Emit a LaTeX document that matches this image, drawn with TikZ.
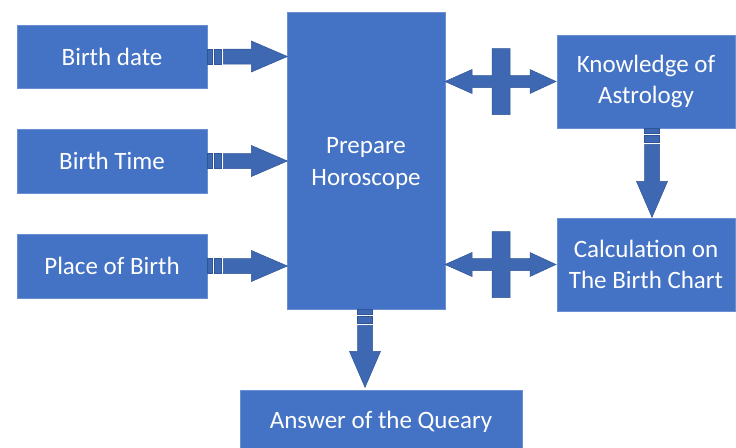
\documentclass[tikz,border=0pt]{standalone}
\usepackage{fontspec}
\setmainfont{Carlito}
\usetikzlibrary{calc}
\definecolor{boxblue}{HTML}{4472C4}
\definecolor{boxline}{HTML}{6A8FD3}
\definecolor{arrblue}{HTML}{3F68B2}
\definecolor{arrline}{HTML}{2F5597}
\tikzset{
  box/.style={draw=boxline, line width=0.8pt, fill=boxblue, text=white,
    font=\fontsize{25}{31.5}\selectfont, align=center, inner sep=0pt},
  arrfill/.style={fill=arrblue, draw=arrline, line width=0.5pt},
  pics/stripedarrow/.style={code={
    \path[arrfill] (0,-7.5) rectangle (5,7.5);
    \path[arrfill] (6.5,-7.5) rectangle (13.5,7.5);
    \path[arrfill] (16,-7.5) -- (#1-36,-7.5) -- (#1-36,-15.5) -- (#1,0)
      -- (#1-36,15.5) -- (#1-36,7.5) -- (16,7.5) -- cycle;
  }},
  pics/crossarrow/.style={code={
    \path[arrfill] (-56,0) -- (-29,-12) -- (-29,-6) -- (-9,-6) -- (-9,-33)
      -- (9,-33) -- (9,-6) -- (29,-6) -- (29,-12) -- (55,0) -- (29,12)
      -- (29,6) -- (9,6) -- (9,33) -- (-9,33) -- (-9,6) -- (-29,6)
      -- (-29,12) -- cycle;
  }}
}
\begin{document}
\begin{tikzpicture}[x=1pt,y=-1pt]
\useasboundingbox (0,0) rectangle (736,447);
\node[box, minimum width=190pt, minimum height=63pt] (bd) at (112,56.5) {Birth date};
\node[box, minimum width=190pt, minimum height=64pt] (bt) at (112,161) {Birth Time};
\node[box, minimum width=190pt, minimum height=64pt] (pb) at (112,266) {Place of Birth};
\node[box, minimum width=158pt, minimum height=297pt] (prep) at (366,160.5) {};
\node[text=white, font=\fontsize{25}{31.5}\selectfont, align=center] (preptext) at (366,163.5) {Prepare\\Horoscope};
\node[box, minimum width=178pt, minimum height=93pt] (know) at (646,81.5) {Knowledge of\\Astrology};
\node[box, minimum width=178pt, minimum height=93pt] (calc) at (646,264.5) {Calculation on\\The Birth Chart};
\node[box, minimum width=282pt, minimum height=64pt] (ans) at (381,422) {Answer of the Queary};
\pic at (bd.east) {stripedarrow=80};
\pic at (bt.east) {stripedarrow=80};
\pic at (pb.east) {stripedarrow=80};
\pic[rotate=-90] at ($(prep.south)+(-1,0)$) {stripedarrow=78};
\pic[rotate=-90] at ($(know.south)+(6,0)$) {stripedarrow=89};
\pic at ($(prep.east |- know.west)!0.5!(know.west)$) {crossarrow};
\pic at ($(prep.east |- calc.west)!0.5!(calc.west)$) {crossarrow};
\end{tikzpicture}
\end{document}
